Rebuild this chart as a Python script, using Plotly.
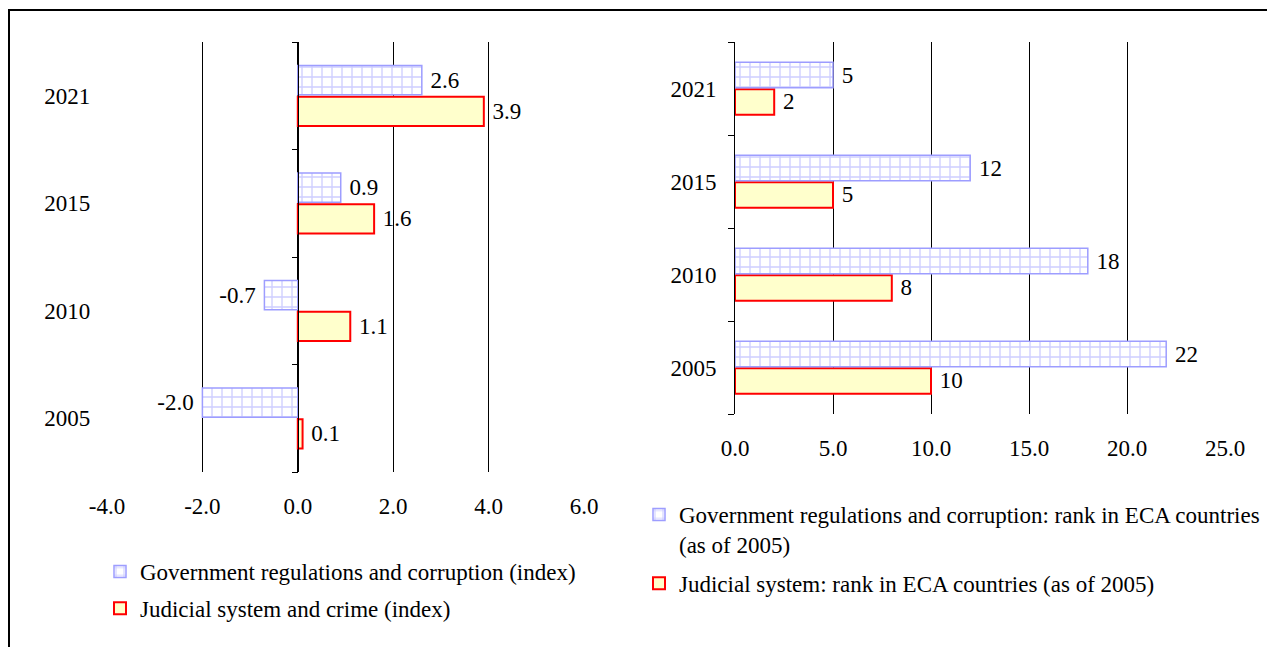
import plotly.graph_objects as go

# data
years = ["2005", "2010", "2015", "2021"]
gov_index = [-2.0, -0.7, 0.9, 2.6]
jud_index = [0.1, 1.1, 1.6, 3.9]
gov_rank = [22, 18, 12, 5]
jud_rank = [10, 8, 5, 2]

left_ticks = [-4, -2, 0, 2, 4, 6]
right_ticks = [0, 5, 10, 15, 20, 25]

W, H = 1275, 647
OFF = 8  # page body margin shifts the figure
FONT = "Liberation Serif, Times New Roman, serif"
FS = 23
BLUE = "#9d9dff"
RED = "#ff0000"
YELLOW = "#ffffcc"
NB = "\u00a0"


def fmt(v):
    return f"{v:.1f}"


def label(s, v):
    # a bit of padding between bar end and its value
    return s + NB if v < 0 else NB + s


def px(x):
    return (x - OFF) / W


def py(y):
    return 1 - (y - OFF) / H


brick = dict(shape="+", fgcolor=BLUE, bgcolor="white", size=10, solidity=0.25)

fig = go.Figure()

# left panel (index)
fig.add_trace(go.Bar(
    y=years, x=jud_index, orientation="h", name="Judicial system and crime (index)",
    marker=dict(color=YELLOW, line=dict(color=RED, width=2)),
    text=[label(fmt(v), v) for v in jud_index], textposition="outside", cliponaxis=False,
    xaxis="x", yaxis="y", legend="legend", legendrank=2, legendgroup="j1",
))
fig.add_trace(go.Bar(
    y=years, x=gov_index, orientation="h", name="Government regulations and corruption (index)",
    marker=dict(color="white", pattern=brick, line=dict(color=BLUE, width=1.5)),
    text=[label(fmt(v), v) for v in gov_index], textposition="outside", cliponaxis=False,
    xaxis="x", yaxis="y", legend="legend", legendrank=1, legendgroup="g1",
))

# right panel (rank)
fig.add_trace(go.Bar(
    y=years, x=jud_rank, orientation="h", name="Judicial system: rank in ECA countries (as of 2005)",
    marker=dict(color=YELLOW, line=dict(color=RED, width=2)),
    text=[label(str(v), v) for v in jud_rank], textposition="outside", cliponaxis=False,
    xaxis="x2", yaxis="y2", legend="legend2", legendrank=2, legendgroup="j2",
))
fig.add_trace(go.Bar(
    y=years, x=gov_rank, orientation="h",
    name="Government regulations and corruption: rank in ECA countries<br>(as of 2005)",
    marker=dict(color="white", pattern=brick, line=dict(color=BLUE, width=1.5)),
    text=[label(str(v), v) for v in gov_rank], textposition="outside", cliponaxis=False,
    xaxis="x2", yaxis="y2", legend="legend2", legendrank=1, legendgroup="g2",
))

fig.update_traces(textfont=dict(family=FONT, size=FS, color="black"))

lx0, lx1 = px(107), px(584)
rx0, rx1 = px(735), px(1225)
ly = [py(472), py(42)]
ry = [py(414), py(42)]

tickfont = dict(family=FONT, size=FS, color="black")
xaxis_common = dict(showgrid=True, gridcolor="black", gridwidth=1, showline=False,
                    zeroline=False, ticks="", tickfont=tickfont,
                    ticklabelstandoff=18, automargin=False)
yaxis_common = dict(type="category", categoryorder="array", categoryarray=years,
                    showline=True, linecolor="black", linewidth=1,
                    ticks="outside", tickson="boundaries", ticklen=6, tickcolor="black",
                    showgrid=False, tickfont=tickfont, automargin=False)

fig.update_layout(
    width=W, height=H,
    margin=dict(l=0, r=0, t=0, b=0, autoexpand=False),
    paper_bgcolor="white", plot_bgcolor="white",
    font=dict(family=FONT, size=FS, color="black"),
    barmode="group", bargap=0.42, bargroupgap=0.06,
    xaxis=dict(domain=[lx0, lx1], anchor="y", range=[-4, 6],
               tickvals=left_ticks, ticktext=[fmt(v) for v in left_ticks], **xaxis_common),
    yaxis=dict(domain=ly, anchor="free", position=lx0 + 0.4 * (lx1 - lx0),
               ticklabelstandoff=203, **yaxis_common),
    xaxis2=dict(domain=[rx0, rx1], anchor="y2", range=[0, 25],
                tickvals=right_ticks, ticktext=[fmt(v) for v in right_ticks], **xaxis_common),
    yaxis2=dict(domain=ry, anchor="x2", ticklabelstandoff=13, **yaxis_common),
    legend=dict(x=px(100), y=py(550), xanchor="left", yanchor="top",
                bgcolor="rgba(0,0,0,0)", tracegroupgap=4,
                font=dict(family=FONT, size=FS, color="black")),
    legend2=dict(x=px(639), y=py(493), xanchor="left", yanchor="top",
                 bgcolor="rgba(0,0,0,0)", valign="top", tracegroupgap=6,
                 font=dict(family=FONT, size=FS, color="black")),
    shapes=[
        dict(type="line", xref="paper", yref="paper",
             x0=0, x1=1, y0=py(10), y1=py(10),
             line=dict(color="black", width=2), layer="above"),
        dict(type="line", xref="paper", yref="paper",
             x0=1 / W, x1=1 / W, y0=0, y1=py(10),
             line=dict(color="black", width=2), layer="above"),
    ],
)

fig.write_html("out.html")
